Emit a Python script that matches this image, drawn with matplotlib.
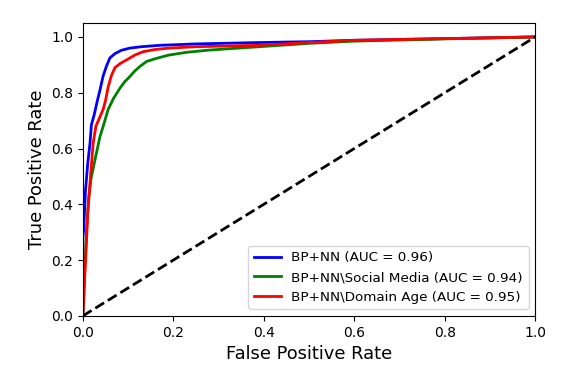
import matplotlib
matplotlib.use("Agg")
import matplotlib.pyplot as plt

fpr_nn = [0.0, 0.0, 0.002, 0.006, 0.011, 0.016, 0.019, 0.025, 0.032, 0.038, 0.045, 0.052, 0.060, 0.071, 0.085, 0.104, 0.13, 0.17, 0.25, 0.39, 0.5, 0.6, 0.8, 1.0]
tpr_nn = [0.0, 0.28, 0.31, 0.45, 0.547, 0.62, 0.685, 0.72, 0.77, 0.81, 0.86, 0.894, 0.925, 0.94, 0.952, 0.96, 0.965, 0.97, 0.975, 0.98, 0.983, 0.988, 0.994, 1.0]

fpr_sm = [0.0, 0.004, 0.008, 0.013, 0.018, 0.027, 0.038, 0.047, 0.056, 0.068, 0.082, 0.093, 0.104, 0.115, 0.126, 0.141, 0.16, 0.19, 0.23, 0.28, 0.39, 0.5, 0.6, 0.8, 1.0]
tpr_sm = [0.0, 0.15, 0.3, 0.42, 0.49, 0.56, 0.643, 0.69, 0.74, 0.78, 0.816, 0.84, 0.858, 0.878, 0.894, 0.912, 0.922, 0.935, 0.945, 0.953, 0.965, 0.977, 0.985, 0.993, 1.0]

fpr_da = [0.0, 0.002, 0.004, 0.008, 0.011, 0.018, 0.023, 0.029, 0.037, 0.045, 0.050, 0.056, 0.063, 0.071, 0.083, 0.097, 0.115, 0.133, 0.16, 0.19, 0.25, 0.39, 0.5, 0.6, 0.8, 1.0]
tpr_da = [0.0, 0.05, 0.13, 0.26, 0.37, 0.52, 0.62, 0.68, 0.71, 0.74, 0.77, 0.82, 0.86, 0.89, 0.905, 0.918, 0.935, 0.947, 0.955, 0.96, 0.965, 0.97, 0.98, 0.988, 0.994, 1.0]

labels = ["BP+NN (AUC = 0.96)", "BP+NN\\Social Media (AUC = 0.94)", "BP+NN\\Domain Age (AUC = 0.95)"]
colors = ["blue", "green", "red"]

fig = plt.figure(figsize=(5.67, 3.77), dpi=100)
ax = fig.add_axes([0.146, 0.162, 0.798, 0.777])
for (x, y), lab, c in zip([(fpr_nn, tpr_nn), (fpr_sm, tpr_sm), (fpr_da, tpr_da)], labels, colors):
    ax.plot(x, y, color=c, lw=2, label=lab)
ax.plot([0, 1], [0, 1], color="black", lw=2, ls="--")
ax.set_xlim(0, 1)
ax.set_ylim(0, 1.05)
ax.set_xlabel("False Positive Rate", fontsize=12.9)
ax.set_ylabel("True Positive Rate", fontsize=12.9)
ax.tick_params(labelsize=10)
ax.legend(loc="lower right", fontsize=9.7)
fig.savefig("out.png", dpi=100)
